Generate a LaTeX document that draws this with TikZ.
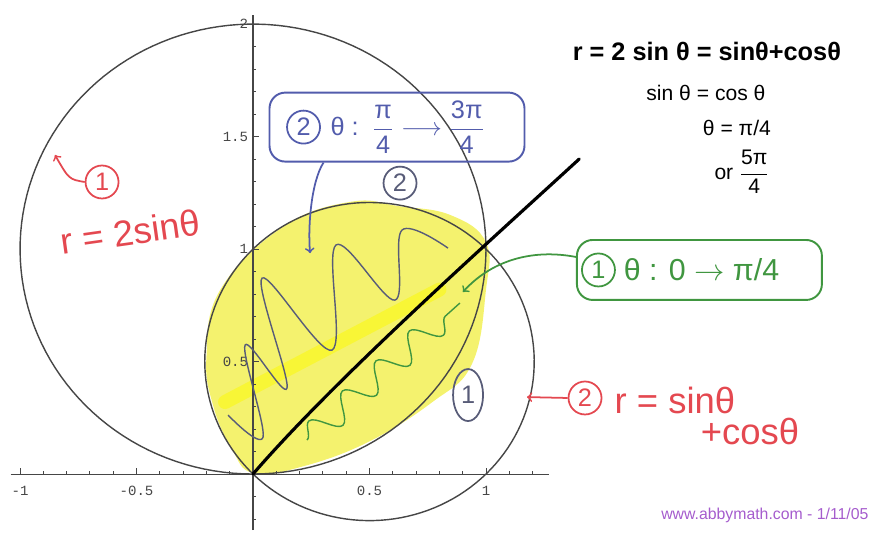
\documentclass[tikz,border=0pt]{standalone}
\usepackage{amsmath}
\usepackage{fontspec}
\setmainfont{Liberation Sans}
\setmonofont{Liberation Mono}
\usepackage{tikz}
\usetikzlibrary{calc,positioning,shapes.geometric,decorations.pathmorphing}
\definecolor{penred}{RGB}{228,72,80}
\definecolor{penblue}{RGB}{82,92,172}
\definecolor{pengreen}{RGB}{64,150,64}
\definecolor{pengray}{RGB}{88,92,120}
\definecolor{curvegray}{RGB}{70,70,70}
\definecolor{hilite}{RGB}{244,242,110}
\definecolor{hilitestrong}{RGB}{250,247,40}
\definecolor{webpurple}{RGB}{165,92,205}
\newcommand{\hfr}[2]{$\dfrac{\text{#1}}{\text{#2}}$}

\begin{document}
\begin{tikzpicture}[x=4.66cm, y=4.5cm, font=\large,
  circnum/.style={circle, draw, line width=1pt, minimum size=0.66cm, inner sep=0pt, font=\Large},
  penbox/.style={draw, rounded corners=9pt, line width=1.1pt},
  curve/.style={curvegray, line width=0.8pt},
  ticklab/.style={font=\ttfamily\footnotesize, text=curvegray, inner sep=1pt}]
  \useasboundingbox (-1.086,-0.267) rectangle (2.674,2.107);

  % highlighted overlap
  \fill[hilite] plot[smooth cycle, tension=0.7] coordinates {(0,0.004) (0.20,0.03) (0.49,0.14)
    (0.77,0.32) (0.94,0.49) (1.00,0.82) (1.00,1.03) (0.85,1.15) (0.63,1.19) (0.42,1.21)
    (0.13,1.10) (-0.14,0.82) (-0.20,0.52) (-0.17,0.30) (-0.09,0.11)};
  \draw[hilitestrong, line width=8pt, line cap=round, opacity=0.8] (-0.12,0.32) -- (0.80,0.82);

  % axes and ticks
  \draw[curve, line width=0.6pt] (-1.04,0) -- (1.27,0);
  \draw[curve, line width=0.6pt] (0,-0.249) -- (0,2.04);
  \foreach \i in {-10,...,12} \draw[curve, line width=0.5pt] (\i/10,0) -- ++(0,0.013);
  \foreach \i in {-1,-0.5,0.5,1} \draw[curve, line width=0.5pt] (\i,0) -- ++(0,0.027);
  \foreach \i in {-2,...,20} \draw[curve, line width=0.5pt] (0,\i/10) -- ++(0.013,0);
  \foreach \i in {0.5,1,1.5,2} \draw[curve, line width=0.5pt] (0,\i) -- ++(0.027,0);
  \foreach \v/\s [count=\k] in {-1/-1,-0.5/-0.5,0.5/0.5,1/1}
    \node[ticklab] (xtick\k) at (\v,-0.075) {\s};
  \foreach \v/\s [count=\k] in {0.5/0.5,1/1,1.5/1.5,2/2}
    \node[ticklab, anchor=east] (ytick\k) at (-0.012,\v) {\s};

  % r = 2 sin theta  and  r = sin theta + cos theta
  \draw[curve] plot[domain=0:180, samples=150] ({2*sin(\x)*cos(\x)}, {2*sin(\x)*sin(\x)});
  \draw[curve] plot[domain=0:180, samples=150]
    ({(sin(\x)+cos(\x))*cos(\x)}, {(sin(\x)+cos(\x))*sin(\x)});

  % theta = pi/4 line
  \draw[black, line width=1.8pt, line cap=round] (0,0) .. controls (0.35,0.42) and (1.0,1.02) .. (1.40,1.40);

  % shading strokes
  \draw[pengray, line width=0.8pt] plot[smooth, tension=0.6] coordinates {(-0.107,0.262) (0.043,0.164)
    (-0.034,0.573) (0.146,0.382) (0.039,0.871) (0.339,0.551) (0.356,1.018) (0.609,0.773)
    (0.639,1.084) (0.837,1.004)};
  \coordinate (wavestart) at (0.232,0.151);
  \coordinate (waveend) at (0.888,0.760);
  \draw[pengreen, line width=0.8pt, decorate, decoration={snake, amplitude=0.26cm, segment length=0.9cm}]
    (wavestart) -- (waveend);

  % region labels
  \node[circnum, draw=pengray, text=pengray] (regiontwo) at (0.631,1.293) {2};
  \node[ellipse, draw=pengray, text=pengray, line width=1pt, minimum width=0.6cm, minimum height=1.04cm,
        inner sep=0pt, font=\Large] (regionone) at (0.923,0.351) {1};

  % blue box: second range
  \node[penbox, draw=penblue, minimum width=5.1cm, minimum height=1.38cm] (bluebox) at (0.618,1.542) {};
  \node[circnum, draw=penblue, text=penblue] (bluenum) at ([xshift=0.7cm]bluebox.west) {2};
  \node[penblue, font=\Large, right=2pt of bluenum] (bluerange) {θ :\, \hfr{π}{4} $\longrightarrow$ \hfr{3π}{4}};
  \coordinate (bluetip) at (0.245,0.982);
  \draw[->, penblue, line width=1pt] ([xshift=1.1cm]bluebox.south west) .. controls (0.25,1.30) and (0.235,1.10) .. (bluetip);

  % green box: first range
  \node[penbox, draw=pengreen, minimum width=4.9cm, minimum height=1.2cm] (greenbox) at (1.916,0.907) {};
  \node[circnum, draw=pengreen, text=pengreen] (greennum) at ([xshift=0.45cm]greenbox.west) {1};
  \node[pengreen, font=\LARGE, right=1pt of greennum] (greenrange) {θ : 0 $\to$ π/4};
  \coordinate (greentip) at (0.901,0.809);
  \draw[->, pengreen, line width=1pt] ([yshift=0.26cm]greenbox.west) .. controls (1.189,1.004) and (1.017,0.942) .. (greentip);

  % red labels for the curves
  \node[circnum, draw=penred, text=penred] (redone) at (-0.648,1.298) {1};
  \coordinate (redtipone) at (-0.850,1.418);
  \draw[->, penred, line width=1pt] (redone.west) .. controls (-0.79,1.31) .. (redtipone);
  \node[penred, font=\huge, rotate=8] (redeqone) at (-0.528,1.076) {r = 2sinθ};

  \node[circnum, draw=penred, text=penred] (redtwo) at (1.425,0.338) {2};
  \coordinate (redtiptwo) at (1.176,0.342);
  \draw[->, penred, line width=1pt] (redtwo.west) -- (redtiptwo);
  \node[penred, font=\huge] (redeqtwo) at (1.811,0.329) {r = sinθ};
  \node[penred, font=\huge] (redeqtwob) at (2.133,0.187) {+cosθ};

  % intersection work
  \node[font=\Large\bfseries] (solveone) at (1.948,1.876) {r = 2 sin θ = sinθ+cosθ};
  \node (solvetwo) at (1.944,1.693) {sin θ = cos θ};
  \node (solvethree) at (2.077,1.538) {θ = π/4};
  \node (solvefour) at (2.099,1.342) {or \hfr{5π}{4}};

  \node[webpurple, font=\small] (credit) at (2.197,-0.182) {www.abbymath.com - 1/11/05};
\end{tikzpicture}
\end{document}
